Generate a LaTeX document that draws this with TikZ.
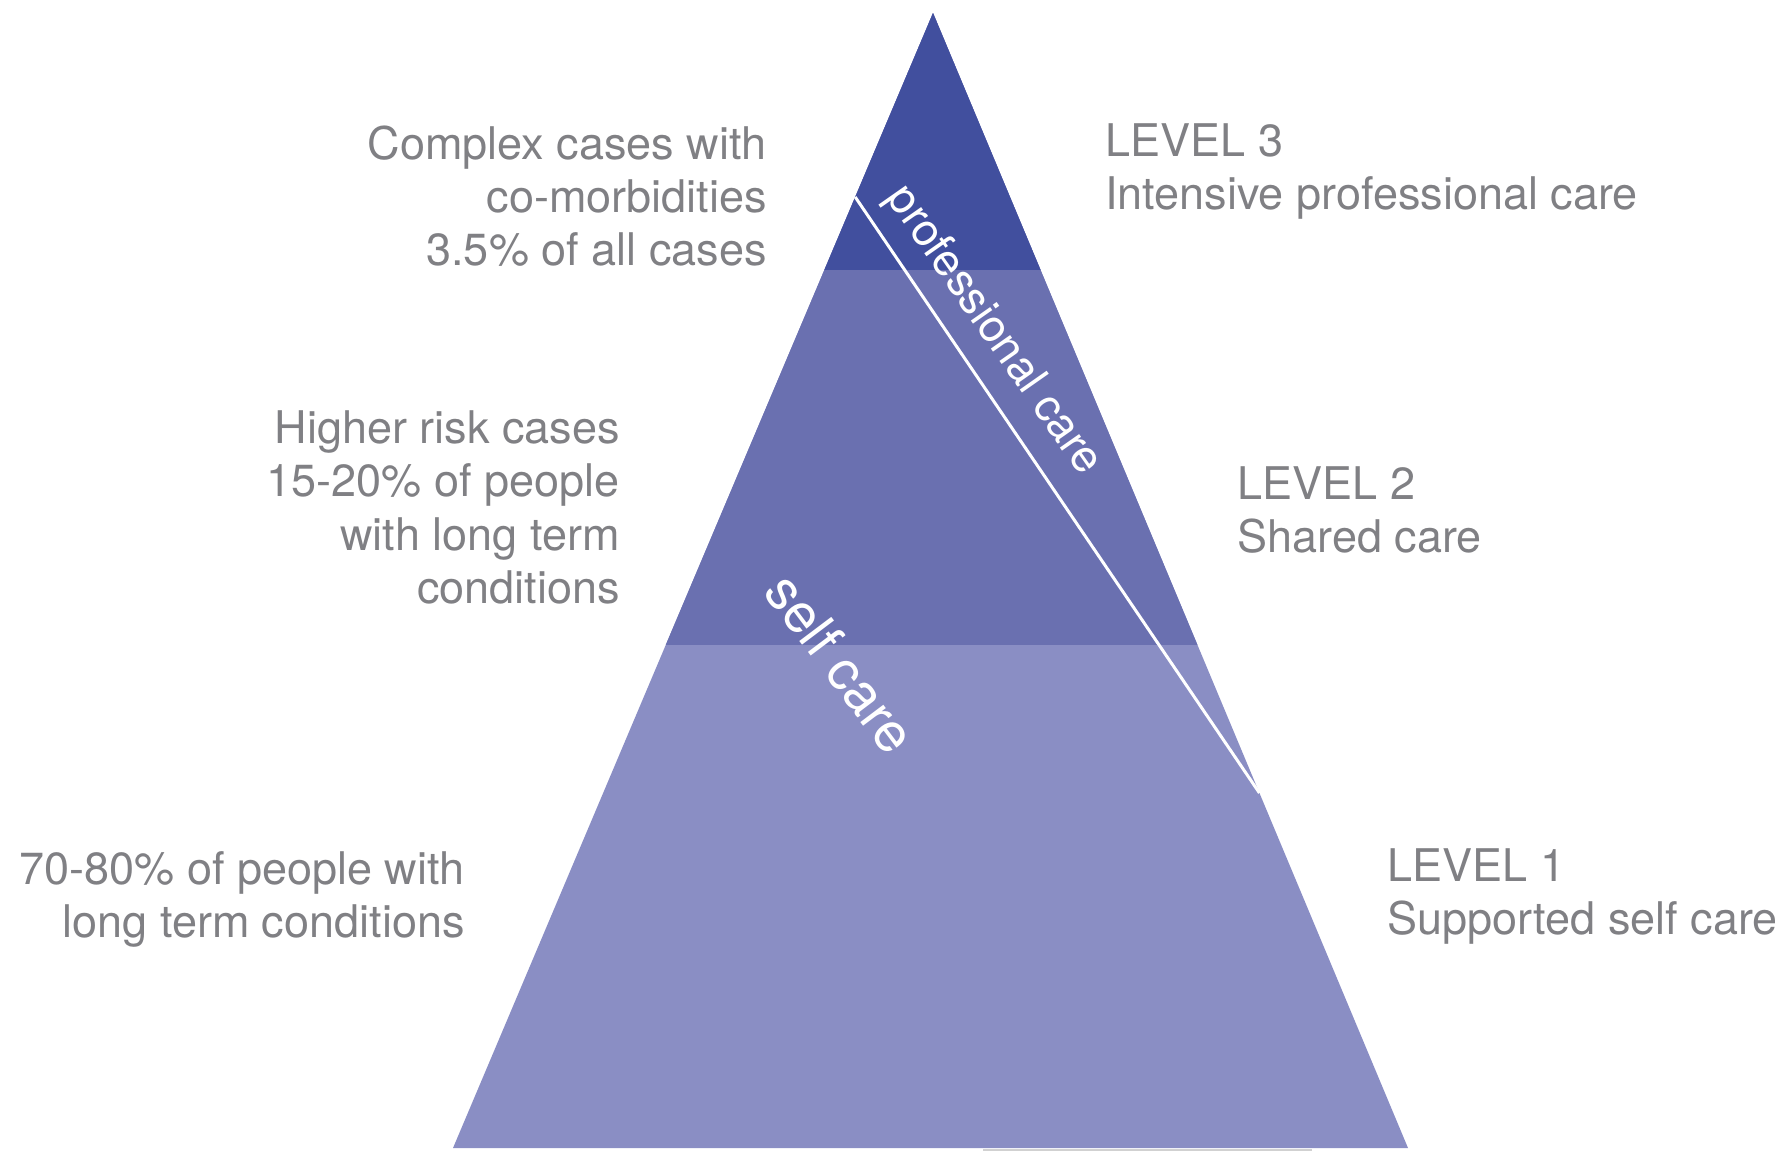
\documentclass[tikz,border=0pt]{standalone}
\usepackage{fontspec}
\setmainfont{TeX Gyre Heros}
\usetikzlibrary{calc}
\definecolor{lvlthree}{RGB}{65,79,158}
\definecolor{lvltwo}{RGB}{106,112,176}
\definecolor{lvlone}{RGB}{138,142,196}
\definecolor{labelgray}{RGB}{128,128,132}
\tikzset{
  sidetext/.style={text=labelgray, inner sep=0pt, font=\fontsize{22.5}{26.7}\selectfont},
  casetext/.style={sidetext, anchor=north east, align=right},
  leveltext/.style={sidetext, anchor=north west, align=left},
  bandtext/.style={text=white, inner sep=0pt, font=\fontsize{22.5}{26.7}\selectfont}
}

\begin{document}
\begin{tikzpicture}[x=0.5pt, y=-0.5pt]

  \useasboundingbox (0,0) rectangle (1775,1151);

  \coordinate (apex) at (933,13);
  \coordinate (bl) at (453,1148);
  \coordinate (br) at (1408,1148);

  %% Draw Levels
  \fill[lvlone] (apex) -- (bl) -- (br) -- cycle;
  \fill[lvltwo] (apex) -- ($(apex)!0.5567!(bl)$) -- ($(apex)!0.5567!(br)$) -- cycle;
  \fill[lvlthree] (apex) -- ($(apex)!0.2264!(bl)$) -- ($(apex)!0.2264!(br)$) -- cycle;
  \draw[black!18, line width=1pt] (983,1150) -- (1312,1150);

  %% Self care / professional care split
  \coordinate (cutl) at ($(apex)!0.1621!(bl)$);
  \coordinate (cutr) at ($(apex)!0.6872!(br)$);
  \draw[white, line width=1.5pt] (cutl) -- (cutr);
  \node[bandtext, rotate=-55] (prof) at (993,331) {professional care};
  \node[bandtext, rotate=-53, font=\fontsize{27.5}{30}\selectfont] (self) at (841,663) {self care};

  %% Draw Cases
  \node[casetext] (cases3) at (767,125) {Complex cases with\\co-morbidities\\3.5\% of all cases};
  \node[casetext] (cases2) at (620,410) {Higher risk cases\\15-20\% of people\\with long term\\conditions};
  \node[casetext] (cases1) at (465,851) {70-80\% of people with\\long term conditions};

  %% Draw Levels text
  \node[leveltext] (level3) at (1105,123) {LEVEL 3\\Intensive professional care};
  \node[leveltext] (level2) at (1237,466) {LEVEL 2\\Shared care};
  \node[leveltext] (level1) at (1387,848) {LEVEL 1\\Supported self care};

\end{tikzpicture}
\end{document}
